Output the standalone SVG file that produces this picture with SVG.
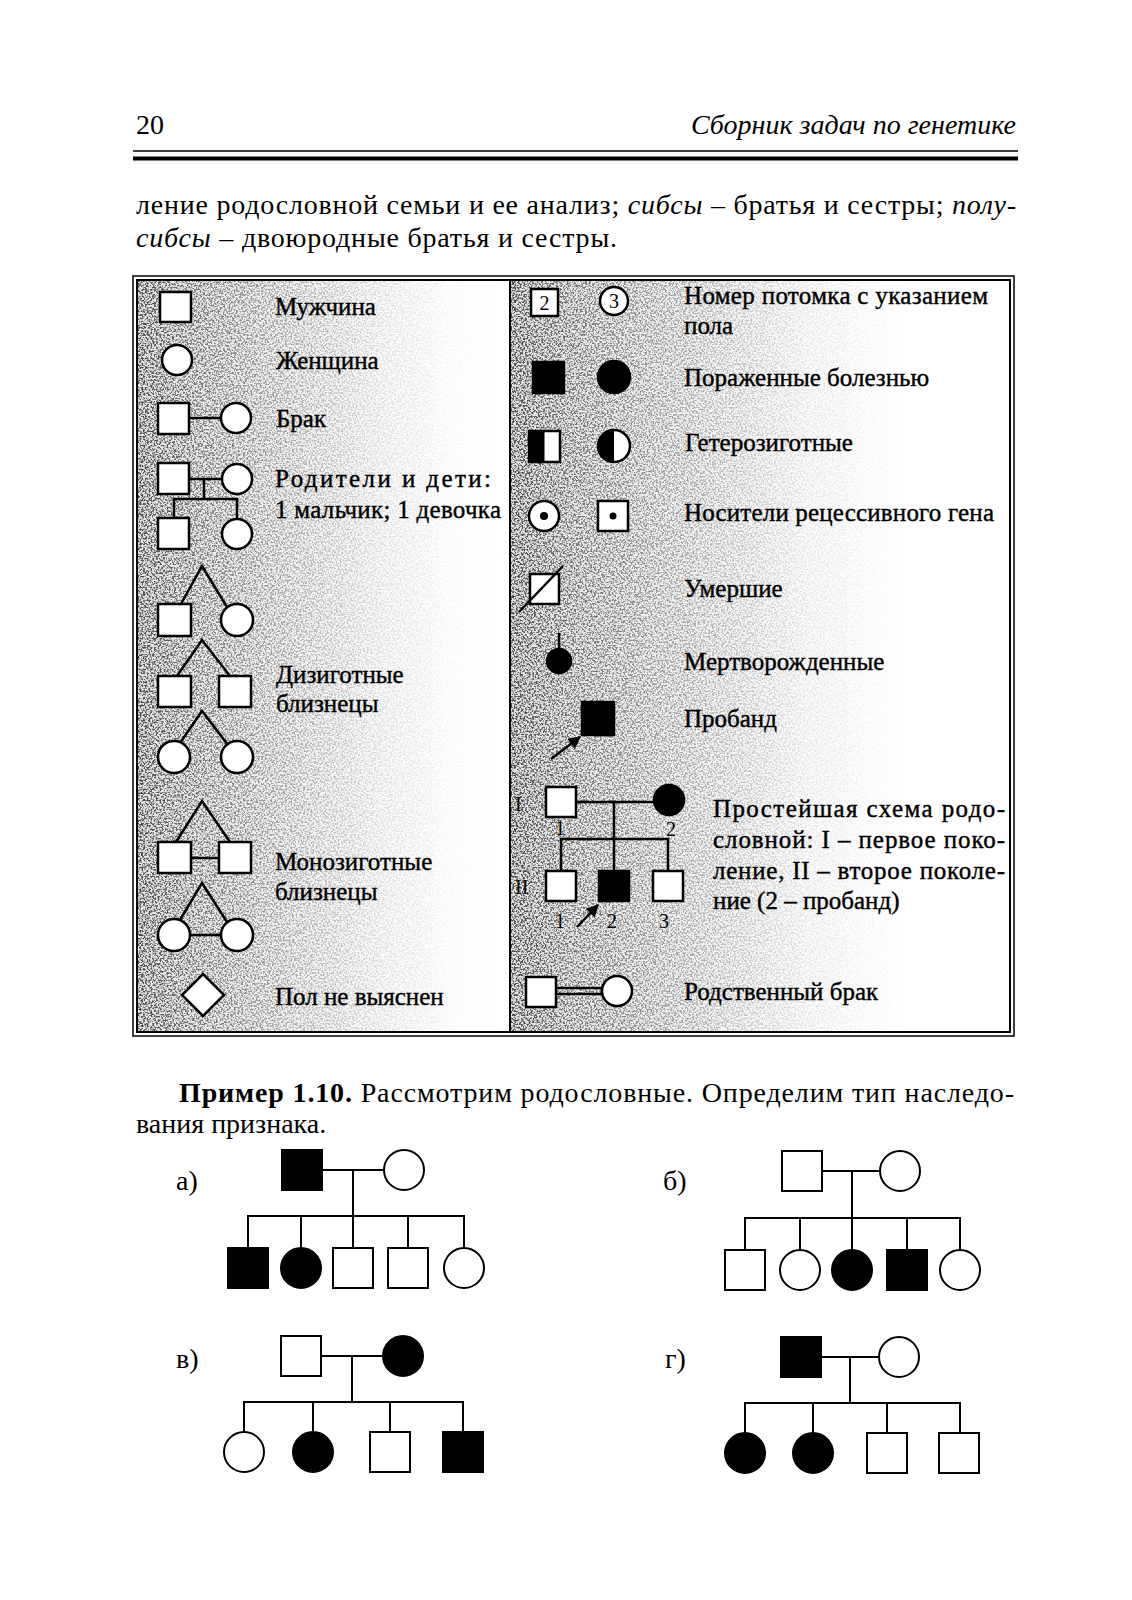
<svg xmlns="http://www.w3.org/2000/svg" width="1132" height="1600" viewBox="0 0 1132 1600">
<style>
.t{font-family:"Liberation Serif","DejaVu Serif",serif;fill:#000}
.hd{font-size:28px}
.body{font-size:28px}
.lbl{font-size:25px;stroke:#000;stroke-width:0.4}
.num{font-size:20px}
.it{font-style:italic}
.b{font-weight:bold}
.o{fill:#fff;stroke:#000;stroke-width:2.5}
.f{fill:#000;stroke:#000;stroke-width:2.5}
.ln{stroke:#000;stroke-width:2.5;fill:none}
.po{fill:#fff;stroke:#000;stroke-width:2}
.pf{fill:#000;stroke:#000;stroke-width:2}
.pl{stroke:#000;stroke-width:2;fill:none}
</style>
<defs>
<linearGradient id="gL" x1="137" y1="0" x2="509" y2="0" gradientUnits="userSpaceOnUse">
<stop offset="0" stop-color="#000" stop-opacity="0.9"/>
<stop offset="0.12" stop-color="#000" stop-opacity="0.7"/>
<stop offset="0.35" stop-color="#000" stop-opacity="0.45"/>
<stop offset="0.65" stop-color="#000" stop-opacity="0.15"/>
<stop offset="0.85" stop-color="#000" stop-opacity="0.03"/>
<stop offset="1" stop-color="#000" stop-opacity="0"/>
</linearGradient>
<linearGradient id="gR" x1="511" y1="0" x2="1010" y2="0" gradientUnits="userSpaceOnUse">
<stop offset="0" stop-color="#000" stop-opacity="0.9"/>
<stop offset="0.1" stop-color="#000" stop-opacity="0.7"/>
<stop offset="0.35" stop-color="#000" stop-opacity="0.4"/>
<stop offset="0.6" stop-color="#000" stop-opacity="0.1"/>
<stop offset="0.8" stop-color="#000" stop-opacity="0"/>
</linearGradient>
<filter id="grain" x="0" y="0" width="1" height="1" color-interpolation-filters="sRGB">
<feTurbulence type="fractalNoise" baseFrequency="0.55" numOctaves="2" seed="7" result="noise"/>
<feColorMatrix in="noise" type="matrix" values="0 0 0 0 0.2  0 0 0 0 0.2  0 0 0 0 0.2  5 0 0 0 -2.2" result="specks"/>
<feComposite in="specks" in2="SourceGraphic" operator="in"/>
</filter>
<marker id="arr" viewBox="0 0 10 10" refX="9" refY="5" markerWidth="6" markerHeight="5" orient="auto" markerUnits="strokeWidth">
<path d="M0,0 L10,5 L0,10 Z" fill="#000"/>
</marker>
</defs>

<rect width="1132" height="1600" fill="#fff"/>

<g id="header">
<text class="t hd" x="136" y="134">20</text>
<text class="t hd it" x="1016" y="134" text-anchor="end">Сборник задач по генетике</text>
<line x1="133" y1="151" x2="1018" y2="151" stroke="#000" stroke-width="1.5"/>
<line x1="133" y1="158.5" x2="1018" y2="158.5" stroke="#000" stroke-width="4"/>
</g>

<g id="intro">
<text class="t body" x="136" y="214" textLength="880" lengthAdjust="spacing">ление родословной семьи и ее анализ; <tspan class="it">сибсы</tspan> – братья и сестры; <tspan class="it">полу-</tspan></text>
<text class="t body" x="136" y="247" textLength="481" lengthAdjust="spacing"><tspan class="it">сибсы</tspan> – двоюродные братья и сестры.</text>
</g>

<g id="shading">
<rect x="137" y="280" width="372" height="752" fill="url(#gL)" opacity="0.12"/>
<rect x="137" y="280" width="372" height="752" fill="url(#gL)" filter="url(#grain)"/>
<rect x="511" y="280" width="499" height="752" fill="url(#gR)" opacity="0.12"/>
<rect x="511" y="280" width="499" height="752" fill="url(#gR)" filter="url(#grain)"/>
</g>

<g id="table-frame" fill="none" stroke="#000">
<rect x="133" y="276" width="881" height="760" stroke-width="1.5"/>
<rect x="137" y="280" width="873" height="752" stroke-width="2"/>
<line x1="510" y1="280" x2="510" y2="1032" stroke-width="2"/>
</g>

<g id="connectors">
<line class="ln" x1="189" y1="418" x2="221" y2="418"/>
<line class="ln" x1="189" y1="479" x2="222" y2="479"/>
<line class="ln" x1="204" y1="479" x2="204" y2="499"/>
<polyline class="ln" points="174,518 174,499 237,499 237,519"/>
<polyline class="ln" points="181,604 202,566 227,607"/>
<polyline class="ln" points="177,676 202,640 230,676"/>
<polyline class="ln" points="180,743 202,711 228,745"/>
<polyline class="ln" points="176,842 202,801 230,842"/>
<line class="ln" x1="191" y1="858" x2="219" y2="858"/>
<polyline class="ln" points="180,920 202,883 227,922"/>
<line class="ln" x1="190" y1="935" x2="221" y2="935"/>
<line class="ln" x1="559" y1="633" x2="559" y2="649"/>
<line class="ln" x1="551" y1="759" x2="580" y2="737" marker-end="url(#arr)"/>
<line class="ln" x1="576" y1="802" x2="655" y2="802"/>
<line class="ln" x1="614" y1="802" x2="614" y2="871"/>
<polyline class="ln" points="561,871 561,839 668,839 668,871"/>
<line class="ln" x1="577" y1="927" x2="598" y2="905" marker-end="url(#arr)"/>
<line class="ln" x1="556" y1="988" x2="603" y2="988"/>
<line class="ln" x1="556" y1="994" x2="603" y2="994"/>
</g>

<g id="male"><rect class="o" x="160" y="292" width="31" height="30"/>
<text class="t lbl" x="275" y="315">Мужчина</text></g>
<g id="female"><circle class="o" cx="177" cy="360" r="15"/>
<text class="t lbl" x="276" y="369">Женщина</text></g>
<g id="marriage"><rect class="o" x="158" y="403" width="31" height="31"/><circle class="o" cx="236" cy="418" r="15"/>
<text class="t lbl" x="276" y="427">Брак</text></g>
<g id="parents-children">
<rect class="o" x="158" y="463" width="31" height="31"/><circle class="o" cx="237" cy="479" r="15"/>
<rect class="o" x="158" y="518" width="31" height="31"/><circle class="o" cx="237" cy="534" r="15"/>
<text class="t lbl" x="275" y="487" textLength="216" lengthAdjust="spacing">Родители и дети:</text>
<text class="t lbl" x="275" y="518" textLength="226" lengthAdjust="spacing">1 мальчик; 1 девочка</text></g>
<g id="dizygotic">
<rect class="o" x="158" y="604" width="33" height="32"/><circle class="o" cx="237" cy="620" r="16"/>
<rect class="o" x="158" y="676" width="33" height="31"/><rect class="o" x="219" y="676" width="32" height="31"/>
<circle class="o" cx="174" cy="757" r="16"/><circle class="o" cx="237" cy="757" r="16"/>
<text class="t lbl" x="276" y="683">Дизиготные</text>
<text class="t lbl" x="276" y="712">близнецы</text></g>
<g id="monozygotic">
<rect class="o" x="158" y="842" width="33" height="31"/><rect class="o" x="219" y="842" width="32" height="31"/>
<circle class="o" cx="174" cy="935" r="16"/><circle class="o" cx="237" cy="935" r="16"/>
<text class="t lbl" x="275" y="870">Монозиготные</text>
<text class="t lbl" x="275" y="900">близнецы</text></g>
<g id="unknown-sex"><polygon class="o" points="203,974 224,995 203,1016 182,995"/>
<text class="t lbl" x="275" y="1005">Пол не выяснен</text></g>

<g id="numbered"><rect class="o" x="531" y="289" width="27" height="27"/><text class="t num" x="544.5" y="310" text-anchor="middle">2</text>
<circle class="o" cx="614" cy="301" r="14"/><text class="t num" x="614" y="308" text-anchor="middle">3</text>
<text class="t lbl" x="684" y="304" textLength="304" lengthAdjust="spacing">Номер потомка с указанием</text>
<text class="t lbl" x="684" y="334">пола</text></g>
<g id="affected"><rect class="f" x="533" y="362" width="31" height="31"/><circle class="f" cx="614" cy="377" r="16"/>
<text class="t lbl" x="684" y="386">Пораженные болезнью</text></g>
<g id="heterozygous"><rect class="o" x="529" y="431" width="31" height="31"/><rect x="529" y="431" width="15.5" height="31" fill="#000"/>
<circle class="o" cx="614" cy="446" r="16"/><path d="M614,430 A16,16 0 0,0 614,462 Z" fill="#000"/>
<text class="t lbl" x="685" y="451">Гетерозиготные</text></g>
<g id="carriers"><circle class="o" cx="544" cy="516" r="15"/><circle cx="544" cy="516" r="4" fill="#000"/>
<rect class="o" x="598" y="501" width="30" height="30"/><circle cx="613" cy="516" r="3.5" fill="#000"/>
<text class="t lbl" x="684" y="521" textLength="310" lengthAdjust="spacing">Носители рецессивного гена</text></g>
<g id="deceased"><rect class="o" x="530" y="574" width="29" height="30"/><line class="ln" x1="519" y1="612" x2="563" y2="566"/>
<text class="t lbl" x="684" y="597">Умершие</text></g>
<g id="stillborn"><circle class="f" cx="559" cy="661" r="12"/>
<text class="t lbl" x="684" y="670">Мертворожденные</text></g>
<g id="proband"><rect class="f" x="582" y="702" width="32" height="33"/>
<text class="t lbl" x="684" y="727">Пробанд</text></g>
<g id="simple-pedigree">
<rect class="o" x="546" y="787" width="30" height="30"/><circle class="f" cx="669" cy="800" r="15"/>
<rect class="o" x="546" y="871" width="30" height="30"/><rect class="f" x="599" y="871" width="30" height="30"/><rect class="o" x="653" y="871" width="30" height="30"/>
<text class="t num" x="515" y="811">I</text>
<text class="t num" x="560" y="835" text-anchor="middle">1</text>
<text class="t num" x="671" y="836" text-anchor="middle">2</text>
<text class="t num" x="515" y="894">II</text>
<text class="t num" x="560" y="928" text-anchor="middle">1</text>
<text class="t num" x="612" y="928" text-anchor="middle">2</text>
<text class="t num" x="664" y="928" text-anchor="middle">3</text>
<text class="t lbl" x="713" y="817" textLength="292" lengthAdjust="spacing">Простейшая схема родо-</text>
<text class="t lbl" x="713" y="848" textLength="292" lengthAdjust="spacing">словной: I – первое поко-</text>
<text class="t lbl" x="713" y="879" textLength="292" lengthAdjust="spacing">ление, II – второе поколе-</text>
<text class="t lbl" x="713" y="909">ние (2 – пробанд)</text></g>
<g id="consanguineous"><rect class="o" x="526" y="977" width="30" height="30"/><circle class="o" cx="617" cy="991" r="15"/>
<text class="t lbl" x="684" y="1000">Родственный брак</text></g>

<g id="example-text">
<text class="t body" x="179" y="1102" textLength="835" lengthAdjust="spacing"><tspan class="b">Пример 1.10.</tspan> Рассмотрим родословные. Определим тип наследо-</text>
<text class="t body" x="136" y="1133">вания признака.</text>
</g>

<g id="pedigree-connectors">
<line class="pl" x1="322" y1="1170" x2="384" y2="1170"/>
<line class="pl" x1="353" y1="1170" x2="353" y2="1216"/>
<polyline class="pl" points="248,1248 248,1216 464,1216 464,1248"/>
<line class="pl" x1="301" y1="1216" x2="301" y2="1248"/>
<line class="pl" x1="353" y1="1216" x2="353" y2="1248"/>
<line class="pl" x1="408" y1="1216" x2="408" y2="1248"/>

<line class="pl" x1="822" y1="1171" x2="880" y2="1171"/>
<line class="pl" x1="852" y1="1171" x2="852" y2="1250"/>
<polyline class="pl" points="745,1250 745,1218 960,1218 960,1250"/>
<line class="pl" x1="800" y1="1218" x2="800" y2="1250"/>
<line class="pl" x1="907" y1="1218" x2="907" y2="1250"/>

<line class="pl" x1="321" y1="1356" x2="383" y2="1356"/>
<line class="pl" x1="352" y1="1356" x2="352" y2="1402"/>
<polyline class="pl" points="244,1432 244,1402 463,1402 463,1432"/>
<line class="pl" x1="313" y1="1402" x2="313" y2="1432"/>
<line class="pl" x1="390" y1="1402" x2="390" y2="1432"/>

<line class="pl" x1="821" y1="1357" x2="879" y2="1357"/>
<line class="pl" x1="850" y1="1357" x2="850" y2="1403"/>
<polyline class="pl" points="745,1433 745,1403 960,1403 960,1433"/>
<line class="pl" x1="813" y1="1403" x2="813" y2="1433"/>
<line class="pl" x1="887" y1="1403" x2="887" y2="1433"/>
</g>

<g id="pedigree-a">
<text class="t body" x="176" y="1190">а)</text>
<rect class="pf" x="282" y="1150" width="40" height="40"/><circle class="po" cx="404" cy="1170" r="20"/>
<rect class="pf" x="228" y="1248" width="40" height="40"/><circle class="pf" cx="301" cy="1268" r="20"/>
<rect class="po" x="333" y="1248" width="40" height="40"/><rect class="po" x="388" y="1248" width="40" height="40"/>
<circle class="po" cx="464" cy="1268" r="20"/>
</g>
<g id="pedigree-b">
<text class="t body" x="663" y="1190">б)</text>
<rect class="po" x="782" y="1151" width="40" height="40"/><circle class="po" cx="900" cy="1171" r="20"/>
<rect class="po" x="725" y="1250" width="40" height="40"/><circle class="po" cx="800" cy="1270" r="20"/>
<circle class="pf" cx="852" cy="1270" r="20"/><rect class="pf" x="887" y="1250" width="40" height="40"/>
<circle class="po" cx="960" cy="1270" r="20"/>
</g>
<g id="pedigree-v">
<text class="t body" x="176" y="1368">в)</text>
<rect class="po" x="281" y="1336" width="40" height="40"/><circle class="pf" cx="403" cy="1356" r="20"/>
<circle class="po" cx="244" cy="1452" r="20"/><circle class="pf" cx="313" cy="1452" r="20"/>
<rect class="po" x="370" y="1432" width="40" height="40"/><rect class="pf" x="443" y="1432" width="40" height="40"/>
</g>
<g id="pedigree-g">
<text class="t body" x="665" y="1368">г)</text>
<rect class="pf" x="781" y="1337" width="40" height="40"/><circle class="po" cx="899" cy="1357" r="20"/>
<circle class="pf" cx="745" cy="1453" r="20"/><circle class="pf" cx="813" cy="1453" r="20"/>
<rect class="po" x="867" y="1433" width="40" height="40"/><rect class="po" x="939" y="1433" width="40" height="40"/>
</g>
</svg>
